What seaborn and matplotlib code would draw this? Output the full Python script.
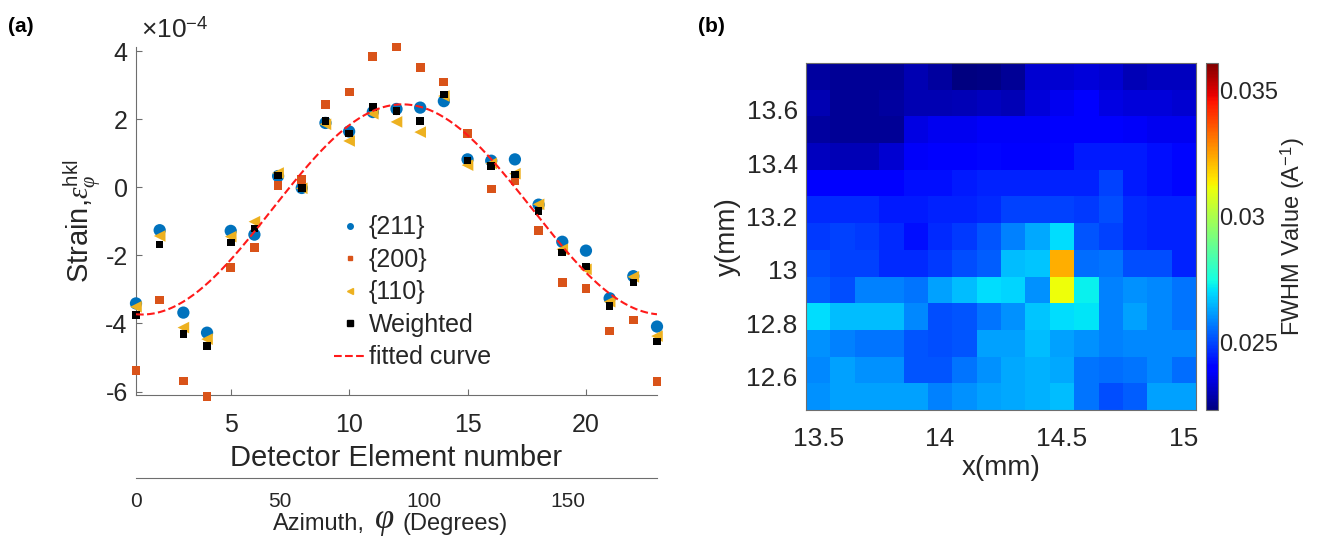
import numpy as np
import matplotlib
matplotlib.use('Agg')
import matplotlib.pyplot as plt
import seaborn as sns
from matplotlib.lines import Line2D
from matplotlib.ticker import FuncFormatter

# ---------------- Panel (a) data (strain, units of 1e-4) ----------------
detector = list(range(1, 24))
s211 = [-3.41, -1.26, -3.68, -4.27, -1.28, -1.39, 0.33, -0.02, 1.89, 1.64, 2.21, 2.30,
        2.34, 2.53, 0.82, 0.78, 0.82, -0.51, -1.60, -1.86, -3.26, -2.61, -4.09]
s200 = [-5.38, -3.31, -5.69, -6.15, -2.36, -1.77, 0.05, 0.23, 2.44, 2.80, 3.83, 4.12,
        3.51, 3.09, 1.58, -0.05, 0.21, -1.26, -2.80, -2.97, -4.22, -3.90, -5.71]
s110 = [-3.51, -1.43, -4.12, -4.46, -1.45, -1.01, 0.42, -0.03, 1.85, 1.36, 2.16, 1.92,
        1.62, 2.68, 0.65, 0.70, 0.40, -0.50, -1.82, -2.41, -3.36, -2.63, -4.37]
weighted = [-3.75, -1.68, -4.31, -4.66, -1.62, -1.21, 0.35, -0.02, 1.95, 1.58, 2.36, 2.24,
            1.95, 2.72, 0.79, 0.63, 0.38, -0.69, -1.91, -2.33, -3.48, -2.80, -4.53]
azimuth_span = 180.0   # detector 1..23 covers 0..180 degrees
det_ticks = [5, 10, 15, 20]
strain_ticks = [-6, -4, -2, 0, 2, 4]
az_ticks = [0, 50, 100, 150]

# ---------------- Panel (b) data (FWHM, 1/A) ----------------
x_centers = [13.5, 13.6, 13.7, 13.8, 13.9, 14.0, 14.1, 14.2, 14.3, 14.4, 14.5, 14.6, 14.7, 14.8, 14.9, 15.0]
y_centers = [13.725, 13.625, 13.525, 13.425, 13.325, 13.225, 13.125, 13.025, 12.925, 12.825, 12.725, 12.625, 12.525]
fwhm = [
    [0.0227,0.0226,0.0226,0.0226,0.0229,0.0227,0.0223,0.0224,0.0226,0.0233,0.0233,0.0234,0.0233,0.0230,0.0231,0.0231],
    [0.0229,0.0226,0.0226,0.0227,0.0229,0.0229,0.0230,0.0231,0.0230,0.0234,0.0237,0.0240,0.0235,0.0234,0.0234,0.0233],
    [0.0227,0.0226,0.0226,0.0226,0.0235,0.0237,0.0237,0.0238,0.0238,0.0238,0.0240,0.0240,0.0240,0.0238,0.0237,0.0237],
    [0.0231,0.0230,0.0230,0.0233,0.0238,0.0240,0.0240,0.0241,0.0240,0.0240,0.0241,0.0244,0.0244,0.0244,0.0242,0.0241],
    [0.0240,0.0240,0.0240,0.0240,0.0242,0.0242,0.0244,0.0245,0.0245,0.0245,0.0245,0.0245,0.0249,0.0244,0.0242,0.0241],
    [0.0246,0.0246,0.0246,0.0244,0.0244,0.0245,0.0245,0.0246,0.0249,0.0249,0.0249,0.0248,0.0251,0.0246,0.0245,0.0245],
    [0.0248,0.0249,0.0248,0.0246,0.0242,0.0246,0.0248,0.0252,0.0258,0.0263,0.0270,0.0252,0.0249,0.0246,0.0245,0.0245],
    [0.0251,0.0249,0.0249,0.0246,0.0246,0.0248,0.0251,0.0253,0.0266,0.0267,0.0323,0.0255,0.0256,0.0251,0.0251,0.0245],
    [0.0253,0.0251,0.0258,0.0258,0.0256,0.0262,0.0266,0.0270,0.0269,0.0260,0.0311,0.0273,0.0258,0.0260,0.0259,0.0256],
    [0.0270,0.0266,0.0266,0.0266,0.0259,0.0251,0.0252,0.0256,0.0260,0.0267,0.0270,0.0271,0.0258,0.0262,0.0259,0.0256],
    [0.0260,0.0258,0.0256,0.0256,0.0252,0.0251,0.0252,0.0262,0.0262,0.0266,0.0262,0.0260,0.0258,0.0259,0.0259,0.0259],
    [0.0259,0.0262,0.0260,0.0260,0.0252,0.0252,0.0256,0.0260,0.0263,0.0264,0.0263,0.0256,0.0255,0.0256,0.0259,0.0255],
    [0.0260,0.0262,0.0262,0.0262,0.0262,0.0258,0.0260,0.0262,0.0263,0.0264,0.0266,0.0256,0.0251,0.0253,0.0262,0.0262],
]
fwhm_min, fwhm_max = 0.0223, 0.0361
x_ticks_b = [13.5, 14.0, 14.5, 15.0]
y_ticks_b = [12.6, 12.8, 13.0, 13.2, 13.4, 13.6]
cbar_ticks = [0.025, 0.03, 0.035]

# ---------------- style ----------------
sns.set_theme(style='white')
plt.rcParams['font.family'] = ['Liberation Sans', 'DejaVu Sans']
plt.rcParams['mathtext.fontset'] = 'custom'
plt.rcParams['mathtext.rm'] = 'Liberation Sans'
plt.rcParams['mathtext.sf'] = 'Liberation Sans'
plt.rcParams['mathtext.it'] = 'Liberation Serif:italic'
plt.rcParams['mathtext.fallback'] = 'stix'
plt.rcParams['axes.unicode_minus'] = False
TXT = '#262626'
SPINE = '#6e6e6e'

fig = plt.figure(figsize=(13.2, 5.39), dpi=100)
W, H = 1320.0, 539.0

def rect(x0, y0, x1, y1):
    return [x0 / W, 1 - y1 / H, (x1 - x0) / W, (y1 - y0) / H]

# ---------------- Panel (a) ----------------
ax = fig.add_axes(rect(136, 47, 657, 395))
c211, c200, c110 = '#0072BD', '#D95319', '#EDB120'
sns.scatterplot(x=detector, y=s211, ax=ax, marker='o', s=78, color=c211, edgecolor='none', clip_on=False, zorder=3)
sns.scatterplot(x=detector, y=s200, ax=ax, marker='s', s=40, color=c200, edgecolor='none', clip_on=False, zorder=4)
sns.scatterplot(x=detector, y=s110, ax=ax, marker='<', s=70, color=c110, edgecolor='none', clip_on=False, zorder=5)
sns.scatterplot(x=detector, y=weighted, ax=ax, marker='s', s=30, color='black', edgecolor='none', clip_on=False, zorder=6)

# least-squares fit of the weighted strain: a + b cos(2phi) + c sin(2phi)
det = np.array(detector, dtype=float)
phi = np.deg2rad((det - det[0]) / (det[-1] - det[0]) * azimuth_span)
A = np.column_stack([np.ones_like(phi), np.cos(2 * phi), np.sin(2 * phi)])
coef, *_ = np.linalg.lstsq(A, np.array(weighted), rcond=None)
phi_f = np.linspace(phi[0], phi[-1], 300)
fit = coef[0] + coef[1] * np.cos(2 * phi_f) + coef[2] * np.sin(2 * phi_f)
det_f = det[0] + phi_f / np.deg2rad(azimuth_span) * (det[-1] - det[0])
sns.lineplot(x=det_f, y=fit, ax=ax, color='#FF1A1A', linestyle='--', linewidth=1.5, zorder=7, sort=False)

ax.set_xlim(1, 23)
ax.set_ylim(-6.1, 4.12)
ax.set_xticks(det_ticks)
ax.set_yticks(strain_ticks)
for s in ['top', 'right']:
    ax.spines[s].set_visible(False)
for s in ['left', 'bottom']:
    ax.spines[s].set_color(SPINE)
    ax.spines[s].set_linewidth(0.8)
ax.tick_params(direction='in', length=4, width=0.8, color=SPINE, labelsize=18, labelcolor=TXT,
               left=True, bottom=True)
ax.tick_params(axis='x', pad=13)
ax.tick_params(axis='y', pad=6)
ax.set_xlabel('Detector Element number', fontsize=21, color=TXT, labelpad=5)
ax.set_ylabel(r'Strain,$\epsilon_{\varphi}^{\mathrm{hkl}}$', fontsize=21, color=TXT, labelpad=2)
ax.text(0.01, 1.05, r'$\times$10$^{-4}$', transform=ax.transAxes, fontsize=19, color=TXT,
        va='center', ha='left')

handles = [
    Line2D([], [], marker='o', ls='none', color=c211, markersize=4),
    Line2D([], [], marker='s', ls='none', color=c200, markersize=3.5),
    Line2D([], [], marker='<', ls='none', color=c110, markersize=4),
    Line2D([], [], marker='s', ls='none', color='black', markersize=4),
    Line2D([], [], color='#FF1A1A', ls='--', lw=1.5),
]
labels = ['{211}', '{200}', '{110}', 'Weighted', 'fitted curve']
leg = ax.legend(handles, labels, loc='upper left', bbox_to_anchor=(0.36, 0.545), frameon=False,
                fontsize=18, handlelength=1.3, handletextpad=0.1, labelspacing=0.34,
                borderaxespad=0, labelcolor=TXT)

# secondary azimuth axis
ax2 = fig.add_axes(rect(136, 477, 657, 478))
ax2.set_xlim(0, 181)
ax2.set_xticks(az_ticks)
ax2.set_yticks([])
for s in ['top', 'left', 'right']:
    ax2.spines[s].set_visible(False)
ax2.spines['bottom'].set_color(SPINE)
ax2.spines['bottom'].set_linewidth(0.8)
ax2.patch.set_alpha(0)
ax2.tick_params(axis='x', direction='in', length=5, width=0.8, color=SPINE, labelsize=15,
                labelcolor=TXT, pad=10)
fig.text(365 / W, 1 - 524 / H, 'Azimuth,', fontsize=17, color=TXT, ha='right', va='center')
fig.text(384 / W, 1 - 521 / H, r'$\varphi$', fontsize=25, color=TXT, ha='center', va='center')
fig.text(403 / W, 1 - 524 / H, '(Degrees)', fontsize=17, color=TXT, ha='left', va='center')

# ---------------- Panel (b) ----------------
axh = fig.add_axes(rect(806, 63, 1196, 410))
cax = fig.add_axes(rect(1206, 63, 1218, 410))
sns.heatmap(np.array(fwhm), ax=axh, cmap='jet', vmin=fwhm_min, vmax=fwhm_max, cbar_ax=cax,
            xticklabels=False, yticklabels=False)
xpos = np.interp(x_ticks_b, x_centers, np.arange(len(x_centers))) + 0.5
ypos = np.interp(y_ticks_b, y_centers[::-1], np.arange(len(y_centers))[::-1]) + 0.5
axh.set_xticks(xpos)
axh.set_xticklabels(['%g' % v for v in x_ticks_b])
axh.set_yticks(ypos)
axh.set_yticklabels(['%g' % v for v in y_ticks_b], rotation=0)
for s in axh.spines.values():
    s.set_visible(True)
    s.set_color(SPINE)
    s.set_linewidth(0.8)
axh.tick_params(direction='in', length=4, width=0.8, color=SPINE, labelsize=19, labelcolor=TXT,
                top=True, right=True, left=True, bottom=True, labeltop=False, labelright=False)
axh.tick_params(axis='x', pad=12)
axh.tick_params(axis='y', pad=6)
axh.set_xlabel('x(mm)', fontsize=20, color=TXT, labelpad=3)
axh.set_ylabel('y(mm)', fontsize=20, color=TXT, labelpad=4)

cb = axh.collections[0].colorbar
cb.set_ticks(cbar_ticks)
cb.ax.yaxis.set_major_formatter(FuncFormatter(lambda v, p: '%g' % v))
cb.ax.tick_params(direction='in', length=3, width=0.6, color=SPINE, labelsize=17, labelcolor=TXT, pad=1)
cb.outline.set_edgecolor(SPINE)
cb.outline.set_linewidth(0.8)
cb.set_label(r'FWHM Value (A$^{\mathrm{-1}}$)', fontsize=17, color=TXT, labelpad=0)

# panel letters
fig.text(8 / W, 1 - 26 / H, '(a)', fontsize=15, fontweight='bold', va='center', ha='left', color='black')
fig.text(698 / W, 1 - 26 / H, '(b)', fontsize=15, fontweight='bold', va='center', ha='left', color='black')

fig.savefig('out.png', dpi=100)
